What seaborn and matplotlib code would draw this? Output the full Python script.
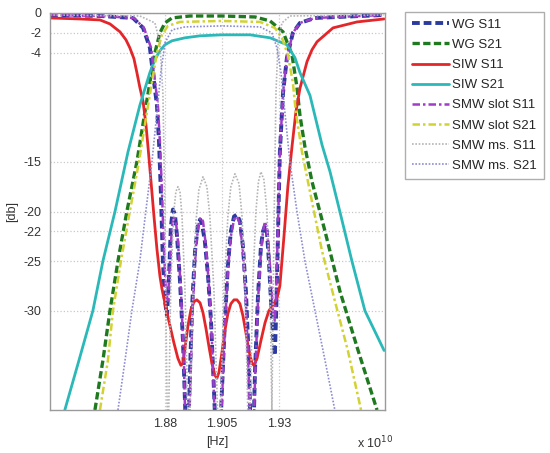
import numpy as np
import pandas as pd
import matplotlib
matplotlib.use('Agg')
import matplotlib.pyplot as plt
import seaborn as sns

# frequency in units of 1e10 Hz, level in dB
wg_s11_f = [1.8296, 1.8515, 1.8660, 1.8704, 1.8734, 1.8747, 1.8765, 1.8774, 1.8782, 1.8791, 1.8800,
            1.8809, 1.8818, 1.8826, 1.8835, 1.8844, 1.8853, 1.8866, 1.8879, 1.8892, 1.8896, 1.8905,
            1.8918, 1.8932, 1.8945, 1.8954, 1.8962, 1.8975, 1.8989, 1.9002, 1.9015, 1.9032, 1.9050,
            1.9063, 1.9076, 1.9089, 1.9103, 1.9116, 1.9129, 1.9142, 1.9155, 1.9168, 1.9182, 1.9195,
            1.9208, 1.9221, 1.9230, 1.9239, 1.9247, 1.9256, 1.9265, 1.9274, 1.9282, 1.9288, 1.9296,
            1.9304, 1.9318, 1.9335, 1.9361, 1.9392, 1.9458, 1.9761]
wg_s11_db = [-0.2, -0.3, -0.5, -1.5, -3.5, -6, -9.3, -13, -18, -25, -29,
             -30.5, -26.5, -21.5, -19.8, -20.3, -22.5, -27, -33, -42, -48, -40,
             -30, -24, -21.3, -20.8, -21.2, -23, -26.5, -31, -38, -48, -38,
             -31, -25.5, -22, -20.5, -20.3, -21, -23.5, -28, -35, -48, -36,
             -28.5, -23.5, -22, -21.4, -22, -25, -29, -32.5, -34.5, -30, -22,
             -14, -8, -4.5, -2, -1, -0.5, -0.2]

wg_s21_f = [1.8493, 1.8528, 1.8559, 1.8594, 1.8633, 1.8677, 1.8712, 1.8734, 1.8756, 1.8778, 1.8800,
            1.8831, 1.8910, 1.9050, 1.9195, 1.9261, 1.9318, 1.9357, 1.9379, 1.9392, 1.9414, 1.9445,
            1.9502, 1.9567, 1.9647, 1.9730]
wg_s21_db = [-40, -35, -30, -25, -20, -15, -10, -7, -4, -2, -1,
             -0.5, -0.3, -0.3, -0.4, -0.8, -1.9, -4.2, -7.5, -10.3, -13.5, -17,
             -22, -28, -34, -40]

siw_s11_f = [1.8296, 1.8427, 1.8515, 1.8559, 1.8603, 1.8629, 1.8646, 1.8664, 1.8677, 1.8690, 1.8704,
             1.8717, 1.8725, 1.8739, 1.8752, 1.8765, 1.8778, 1.8787, 1.8796, 1.8809, 1.8822, 1.8839,
             1.8857, 1.8870, 1.8879, 1.8888, 1.8901, 1.8914, 1.8927, 1.8940, 1.8954, 1.8967, 1.8980,
             1.8993, 1.9006, 1.9019, 1.9028, 1.9037, 1.9050, 1.9063, 1.9076, 1.9089, 1.9103, 1.9116,
             1.9129, 1.9142, 1.9155, 1.9168, 1.9182, 1.9190, 1.9204, 1.9221, 1.9239, 1.9256, 1.9274,
             1.9291, 1.9304, 1.9322, 1.9339, 1.9357, 1.9374, 1.9392, 1.9423, 1.9445, 1.9467, 1.9537,
             1.9642, 1.9761]
siw_s11_db = [-0.5, -0.6, -0.7, -1.1, -1.9, -2.7, -3.5, -4.6, -6, -7.5, -8.9,
              -11.3, -13.3, -17, -20.5, -23.8, -26.5, -27.8, -28.8, -30.2, -31.5, -33.2,
              -34.8, -35.5, -35.3, -33.8, -31.5, -29.9, -29.1, -28.9, -29.2, -30.2, -31.8,
              -33.6, -35.3, -36.5, -36.8, -36.2, -34.2, -32, -30.3, -29.3, -28.9, -28.9,
              -29.3, -30.5, -32.2, -34, -35.3, -35.5, -34.8, -33, -31.2, -30, -29.4,
              -28.8, -27.5, -22.5, -17.5, -13.5, -10, -7.6, -4.9, -3.7, -2.9, -1.5,
              -0.9, -0.6]

siw_s21_f = [1.8361, 1.8423, 1.8484, 1.8528, 1.8581, 1.8638, 1.8690, 1.8734, 1.8756, 1.8778, 1.8800,
             1.8831, 1.8888, 1.8954, 1.9050, 1.9173, 1.9261, 1.9335, 1.9370, 1.9392, 1.9436, 1.9489,
             1.9524, 1.9567, 1.9620, 1.9677, 1.9761]
siw_s21_db = [-40, -35, -30, -25, -20, -14, -9.3, -6, -4.7, -3.8, -3.2,
              -2.8, -2.5, -2.3, -2.2, -2.2, -2.5, -3.2, -4.5, -6, -8.3, -13.3,
              -16, -20, -25, -30, -34]

slot_s11_f = [1.8296, 1.8515, 1.8664, 1.8708, 1.8739, 1.8752, 1.8769, 1.8778, 1.8787, 1.8796, 1.8804,
              1.8813, 1.8822, 1.8831, 1.8839, 1.8848, 1.8857, 1.8870, 1.8883, 1.8896, 1.8910, 1.8923,
              1.8936, 1.8949, 1.8958, 1.8967, 1.8980, 1.8993, 1.9006, 1.9019, 1.9032, 1.9050, 1.9063,
              1.9076, 1.9089, 1.9103, 1.9116, 1.9129, 1.9142, 1.9155, 1.9168, 1.9182, 1.9195, 1.9208,
              1.9221, 1.9230, 1.9239, 1.9247, 1.9256, 1.9265, 1.9274, 1.9282, 1.9288, 1.9296, 1.9304,
              1.9318, 1.9335, 1.9361, 1.9392, 1.9458, 1.9761]
slot_s11_db = [-0.2, -0.3, -0.5, -1.5, -3.5, -6, -9.3, -13, -18, -24, -28,
               -29, -25, -21.5, -20.5, -21, -23, -28, -35, -48, -38, -29,
               -23.5, -21, -20.6, -21, -23.5, -27.5, -33, -41, -48, -39, -31.5,
               -26, -22.5, -20.8, -20.5, -21.3, -24, -29, -37, -48, -37, -29,
               -24, -22, -21, -21.8, -24, -27, -30, -31, -28, -21, -14,
               -8, -4.5, -2, -1, -0.5, -0.2]

slot_s21_f = [1.8515, 1.8550, 1.8572, 1.8607, 1.8646, 1.8686, 1.8721, 1.8743, 1.8765, 1.8787, 1.8813,
              1.8866, 1.9050, 1.9217, 1.9282, 1.9313, 1.9339, 1.9361, 1.9374, 1.9401, 1.9436, 1.9489,
              1.9545, 1.9602, 1.9660]
slot_s21_db = [-40, -35, -30, -25, -20, -15, -10, -7, -4, -2.2, -1.3,
               -0.9, -0.8, -0.9, -1.5, -2.5, -4.2, -7, -10, -14, -18, -24,
               -29, -34, -40]

ms_s11_f = [1.8296, 1.8690, 1.8756, 1.8778, 1.8791, 1.8800, 1.8807, 1.8813, 1.8826, 1.8839, 1.8848,
            1.8857, 1.8866, 1.8875, 1.8888, 1.8905, 1.8923, 1.8936, 1.8949, 1.8967, 1.8984, 1.8997,
            1.9015, 1.9037, 1.9059, 1.9076, 1.9089, 1.9107, 1.9125, 1.9138, 1.9151, 1.9168, 1.9186,
            1.9199, 1.9210, 1.9221, 1.9234, 1.9247, 1.9261, 1.9269, 1.9278, 1.9287, 1.9296, 1.9313,
            1.9348, 1.9761]
ms_s11_db = [-0.2, -0.3, -1, -3, -8, -20, -35, -45, -27, -20, -18,
             -17.5, -18, -20.5, -28, -45, -28, -21, -17.8, -16.5, -17.5, -20.5,
             -28, -45, -28, -20.5, -17.5, -16.2, -17.2, -20.5, -27, -45, -27,
             -20, -17, -16, -16.8, -20, -28, -40, -22, -8, -3, -1,
             -0.3, -0.2]

ms_s21_f = [1.8594, 1.8625, 1.8655, 1.8690, 1.8716, 1.8743, 1.8765, 1.8782, 1.8800, 1.8831, 1.8888,
            1.9050, 1.9217, 1.9269, 1.9291, 1.9309, 1.9326, 1.9348, 1.9379, 1.9414, 1.9458, 1.9502,
            1.9545]
ms_s21_db = [-40, -35, -30, -25, -20, -15, -10, -6, -3, -1.7, -1.4,
             -1.3, -1.4, -2, -3.5, -6, -10, -15, -20, -25, -30, -35,
             -40]

labels = ['WG S11', 'WG S21', 'SIW S11', 'SIW S21',
          'SMW slot S11', 'SMW slot S21', 'SMW ms. S11', 'SMW ms. S21']
colors = ['#2b3a9e', '#1f7a1f', '#e3262a', '#2bb8b8',
          '#a03cc8', '#d2d232', '#b4b4b4', '#8c8cd2']
styles = [(0, (2.0, 1.0)), (0, (2.2, 1.0)), '-', '-',
          (0, (3.0, 1.2, 1.0, 1.2)), (0, (3.0, 1.2, 1.0, 1.2)), (0, (1.0, 1.0)), (0, (1.0, 1.0))]
widths = [2.8, 2.4, 2.0, 2.0, 1.8, 1.8, 1.2, 1.2]

series = [(wg_s11_f, wg_s11_db), (wg_s21_f, wg_s21_db), (siw_s11_f, siw_s11_db),
          (siw_s21_f, siw_s21_db), (slot_s11_f, slot_s11_db), (slot_s21_f, slot_s21_db),
          (ms_s11_f, ms_s11_db), (ms_s21_f, ms_s21_db)]

yticks = [-30, -25, -22, -20, -15, -4, -2, 0]
xticks = [1.88, 1.905, 1.93]

sns.set_style('white')
plt.rcParams['font.family'] = ['Liberation Sans', 'DejaVu Sans']

fig = plt.figure(figsize=(5.5, 4.53), dpi=100)
ax = fig.add_axes([50 / 550, 43 / 453, 335 / 550, 397 / 453])

for (f, db), lab, c, ls, lw in zip(series, labels, colors, styles, widths):
    df = pd.DataFrame({'f': f, 'db': db})
    sns.lineplot(data=df, x='f', y='db', ax=ax, color=c, linestyle=ls, linewidth=lw,
                 sort=False, estimator=None, legend=False)

ax.set_xlim(1.8296, 1.9765)
ax.set_ylim(-40, 0)
ax.set_xticks(xticks)
ax.set_xticklabels(['1.88', '1.905', '1.93'])
ax.set_yticks(yticks)
ax.set_yticklabels([str(v) for v in yticks])
ax.tick_params(labelsize=9, colors='#333333', length=0, pad=6)
ax.grid(True, color='#c8c8c8', linestyle=':', linewidth=0.9)
for s in ax.spines.values():
    s.set_color('#9a9a9a')
    s.set_linewidth(1.0)
ax.set_xlabel('[Hz]', fontsize=9, color='#333333', labelpad=4)
ax.set_ylabel('[db]', fontsize=9, color='#333333', labelpad=4)
fig.text(357 / 550, 1 - 448 / 453, r'x 10$^{10}$', fontsize=9, color='#333333')

handles = [plt.Line2D([], [], color=c, linestyle=ls, linewidth=lw)
           for c, ls, lw in zip(colors, styles, widths)]
leg = fig.legend(handles, labels, loc='upper left', bbox_to_anchor=(405 / 550, 1 - 12 / 453),
                 fontsize=9.5, handlelength=2.8, handletextpad=0.3, labelspacing=0.6,
                 borderpad=0.5, frameon=True, fancybox=False, borderaxespad=0)
leg.get_frame().set_edgecolor('#9a9a9a')
leg.get_frame().set_linewidth(1.0)

fig.savefig('out.png', dpi=100)
